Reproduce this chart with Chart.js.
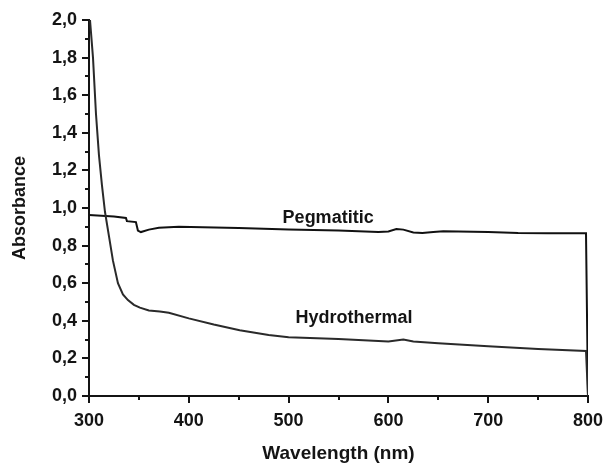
<!DOCTYPE html>
<html><head><meta charset="utf-8">
<script src="https://cdn.jsdelivr.net/npm/chart.js@4.4.0/dist/chart.umd.min.js"></script>
<style>html,body{margin:0;padding:0;background:#fff}#wrap{width:606px;height:465px}</style>
</head><body><div id="wrap"><canvas id="c" width="606" height="465"></canvas></div>
<script>
const hydroX = [301, 304, 307, 310, 313, 316, 320, 324, 329, 334, 339, 345, 351, 360, 371, 380, 400, 425, 451, 480, 500, 550, 600, 615, 625, 650, 700, 750, 798, 800];
const hydroY = [2.0, 1.8, 1.5, 1.28, 1.12, 0.98, 0.85, 0.72, 0.60, 0.54, 0.51, 0.485, 0.47, 0.455, 0.45, 0.443, 0.413, 0.38, 0.35, 0.325, 0.313, 0.303, 0.29, 0.30, 0.29, 0.28, 0.265, 0.25, 0.24, 0];
const pegX = [300, 325, 337, 338, 347, 349, 352, 360, 370, 390, 450, 500, 550, 590, 600, 608, 615, 625, 634, 645, 655, 700, 730, 760, 798, 800];
const pegY = [0.963, 0.955, 0.947, 0.93, 0.925, 0.88, 0.872, 0.885, 0.895, 0.90, 0.893, 0.885, 0.88, 0.873, 0.875, 0.888, 0.885, 0.87, 0.867, 0.872, 0.876, 0.872, 0.867, 0.866, 0.866, 0];
const yTickLabels = ['0,0','0,2','0,4','0,6','0,8','1,0','1,2','1,4','1,6','1,8','2,0'];
const xTickLabels = ['300','400','500','600','700','800'];
const seriesNames = ['Hydrothermal','Pegmatitic'];
const labelPos = [[507, 0.415],[494, 0.945]];

const FONT = '"Liberation Sans", Arial, sans-serif';
const INK = '#141414';

const toPts = (xs, ys) => xs.map((x, i) => ({x, y: ys[i]}));

const tickPlugin = {
  id: 'ticks',
  afterDraw(chart) {
    const ctx = chart.ctx;
    const xs = chart.scales.x, ys = chart.scales.y;
    ctx.save();
    ctx.strokeStyle = INK;
    ctx.lineWidth = 2;
    ys.ticks.forEach(t => {
      const k = Math.round(t.value * 10);
      const len = k % 2 === 0 ? 7 : 4;
      const py = Math.round(ys.getPixelForValue(t.value));
      ctx.beginPath(); ctx.moveTo(xs.left - len, py); ctx.lineTo(xs.left, py); ctx.stroke();
    });
    xs.ticks.forEach(t => {
      const k = Math.round(t.value);
      const len = k % 100 === 0 ? 7 : 4;
      const px = Math.round(xs.getPixelForValue(t.value));
      ctx.beginPath(); ctx.moveTo(px, ys.bottom); ctx.lineTo(px, ys.bottom + len); ctx.stroke();
    });
    ctx.fillStyle = INK;
    ctx.font = 'bold 18px ' + FONT;
    ctx.textBaseline = 'middle';
    ctx.textAlign = 'left';
    seriesNames.forEach((n, i) => {
      ctx.fillText(n, xs.getPixelForValue(labelPos[i][0]), ys.getPixelForValue(labelPos[i][1]));
    });
    ctx.restore();
  }
};

new Chart(document.getElementById('c'), {
  type: 'scatter',
  data: {
    datasets: [
      {label: seriesNames[0], data: toPts(hydroX, hydroY), showLine: true, borderColor: '#2a2a2a', borderWidth: 2, pointRadius: 0, tension: 0},
      {label: seriesNames[1], data: toPts(pegX, pegY), showLine: true, borderColor: '#111', borderWidth: 2, pointRadius: 0, tension: 0}
    ]
  },
  options: {
    responsive: false,
    animation: false,
    layout: {padding: {left: 0, right: 0, top: 20, bottom: 0}},
    plugins: {legend: {display: false}, tooltip: {enabled: false}},
    scales: {
      x: {
        type: 'linear', min: 300, max: 800,
        afterFit(s) { s.height = 69; s.paddingRight = 18; s.paddingLeft = 0; },
        ticks: {
          stepSize: 50, autoSkip: false, maxRotation: 0, padding: 7,
          color: INK, font: {family: FONT, size: 18, weight: 'bold'},
          callback: v => (Math.round(v) % 100 === 0 ? xTickLabels[(Math.round(v) - 300) / 100] : '')
        },
        grid: {display: true, drawOnChartArea: false, drawTicks: true, tickLength: 7, tickColor: 'rgba(0,0,0,0)'},
        border: {display: true, color: INK, width: 2},
        title: {display: true, text: 'Wavelength (nm)', color: INK, font: {family: FONT, size: 19, weight: 'bold'}, padding: {top: 4, bottom: 0}}
      },
      y: {
        type: 'linear', min: 0, max: 2,
        afterFit(s) { s.width = 89; },
        ticks: {
          stepSize: 0.1, autoSkip: false, padding: 5,
          color: INK, font: {family: FONT, size: 18, weight: 'bold'},
          callback: v => { const k = Math.round(v * 10); return k % 2 === 0 ? yTickLabels[k / 2] : ''; }
        },
        grid: {display: true, drawOnChartArea: false, drawTicks: true, tickLength: 7, tickColor: 'rgba(0,0,0,0)'},
        border: {display: true, color: INK, width: 2},
        title: {display: true, text: 'Absorbance', color: INK, font: {family: FONT, size: 18, weight: 'bold'}, padding: {top: 9, bottom: 0}}
      }
    }
  },
  plugins: [tickPlugin]
});
</script></body></html>
